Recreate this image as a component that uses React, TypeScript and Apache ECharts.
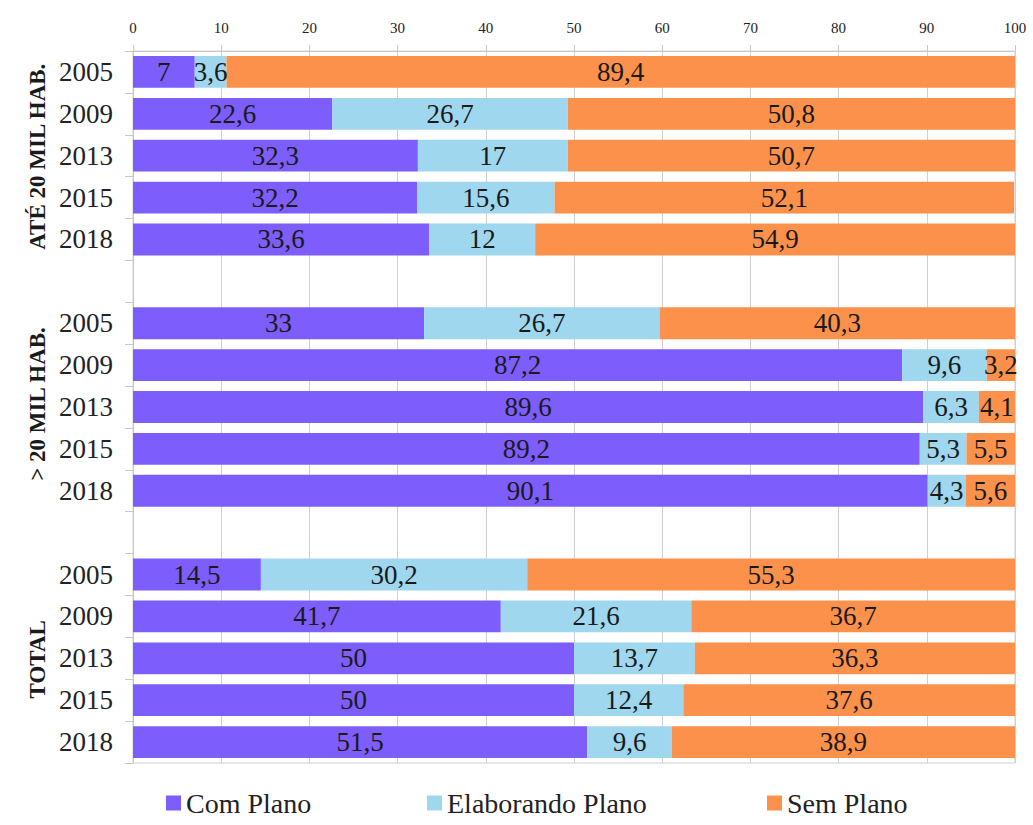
import React, { useEffect, useRef } from "react";
import * as echarts from "echarts";

const groups = ["ATÉ 20 MIL HAB.", "> 20 MIL HAB.", "TOTAL"];
const years = ["2005", "2009", "2013", "2015", "2018"];
const seriesNames = ["Com Plano", "Elaborando Plano", "Sem Plano"];

const comPlano = [7, 22.6, 32.3, 32.2, 33.6, null, 33, 87.2, 89.6, 89.2, 90.1, null, 14.5, 41.7, 50, 50, 51.5];
const elaborandoPlano = [3.6, 26.7, 17, 15.6, 12, null, 26.7, 9.6, 6.3, 5.3, 4.3, null, 30.2, 21.6, 13.7, 12.4, 9.6];
const semPlano = [89.4, 50.8, 50.7, 52.1, 54.9, null, 40.3, 3.2, 4.1, 5.5, 5.6, null, 55.3, 36.7, 36.3, 37.6, 38.9];

const xTicks = [0, 10, 20, 30, 40, 50, 60, 70, 80, 90, 100];

const FONT = "Liberation Serif";

export default function App() {
  const ref = useRef<HTMLDivElement>(null);
  useEffect(() => {
    if (!ref.current) return;
    const chart = echarts.init(ref.current, null, { renderer: "svg" });
    const cats: string[] = [];
    groups.forEach((g, gi) => {
      years.forEach((y) => cats.push(g + "|" + y));
      if (gi < groups.length - 1) cats.push("gap" + gi + "|");
    });
    const fmt = (p: any) => (p.value == null ? "" : String(p.value).replace(".", ","));
    const mk = (name: string, data: (number | null)[], color: string) => ({
      name,
      type: "bar",
      stack: "total",
      data,
      barCategoryGap: "24%",
      itemStyle: { color },
      label: {
        show: true,
        position: "inside",
        formatter: fmt,
        color: "#1a1a1a",
        fontFamily: FONT,
        fontSize: 27,
      },
    });
    const legendLefts = [164, 425, 765];
    chart.setOption({
      animation: false,
      grid: { left: 133, right: 18, top: 51, bottom: 62, show: true, borderColor: "#d0d0d0", borderWidth: 1 },
      xAxis: {
        type: "value",
        position: "top",
        min: xTicks[0],
        max: xTicks[xTicks.length - 1],
        interval: 10,
        axisLine: { show: true, lineStyle: { color: "#c8c8c8" } },
        axisTick: { show: true, length: 6, lineStyle: { color: "#c8c8c8" } },
        splitLine: { show: true, lineStyle: { color: "#d0d0d0" } },
        axisLabel: { fontFamily: FONT, fontSize: 15, color: "#222", margin: 16 },
      },
      yAxis: {
        type: "category",
        inverse: true,
        data: cats,
        axisLine: { show: true, lineStyle: { color: "#c8c8c8" } },
        axisTick: { show: true, length: 8, lineStyle: { color: "#c8c8c8" } },
        axisLabel: {
          fontFamily: FONT,
          fontSize: 27,
          color: "#222",
          margin: 20,
          formatter: (v: string) => v.split("|")[1] || "",
        },
      },
      legend: seriesNames.map((n, i) => ({
        top: 787,
        left: legendLefts[i],
        icon: "rect",
        itemWidth: 15,
        itemHeight: 15,
        padding: 2,
        textStyle: { fontFamily: FONT, fontSize: 28, color: "#222", lineHeight: 28 },
        data: [n],
      })),
      series: [
        mk(seriesNames[0], comPlano, "#7d5dfb"),
        mk(seriesNames[1], elaborandoPlano, "#9fd7ef"),
        mk(seriesNames[2], semPlano, "#fb914b"),
      ],
    });
    const centers = [2, 8, 14].map((i) => chart.convertToPixel({ yAxisIndex: 0 }, cats[i]) as number);
    const offs = [1, -3, 1];
    chart.setOption({
      graphic: groups.map((g, i) => ({
        type: "text",
        x: 37,
        y: centers[i] + offs[i],
        rotation: Math.PI / 2,
        style: {
          text: g,
          fontFamily: FONT,
          fontWeight: "bold",
          fontSize: 23,
          fill: "#1a1a1a",
          textAlign: "center",
          textVerticalAlign: "middle",
        },
      })),
    });
    return () => chart.dispose();
  }, []);
  return <div ref={ref} style={{ width: 1033, height: 825, position: "absolute", left: 0, top: 0 }} />;
}
